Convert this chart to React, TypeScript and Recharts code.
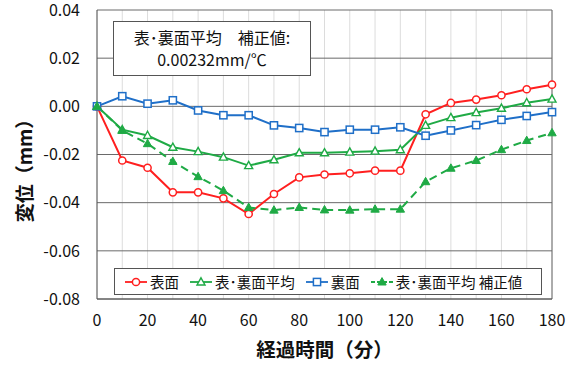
import React from 'react';
import { LineChart, Line, XAxis, YAxis, CartesianGrid, ReferenceLine, Legend } from 'recharts';

// Elapsed time (minutes)
const minutes = [0, 10, 20, 30, 40, 50, 60, 70, 80, 90, 100, 110, 120, 130, 140, 150, 160, 170, 180];

// Displacement (mm) for each series
const frontSurface = [0, -0.0225, -0.0255, -0.0357, -0.0357, -0.0382, -0.0447, -0.0364, -0.0295, -0.0283, -0.0278, -0.0267, -0.0267, -0.0033, 0.0014, 0.0028, 0.0046, 0.0071, 0.009];
const averageSurface = [0, -0.0097, -0.0121, -0.017, -0.0188, -0.0211, -0.0246, -0.0222, -0.0193, -0.0193, -0.019, -0.0186, -0.018, -0.0079, -0.0047, -0.0026, -0.0008, 0.0015, 0.003];
const backSurface = [0, 0.0042, 0.0011, 0.0025, -0.0017, -0.0037, -0.0037, -0.0079, -0.009, -0.0107, -0.0097, -0.0097, -0.0087, -0.0122, -0.01, -0.0078, -0.0056, -0.004, -0.0024];
const averageCorrected = [0, -0.01, -0.0155, -0.0229, -0.0292, -0.035, -0.042, -0.0431, -0.042, -0.043, -0.0431, -0.0427, -0.0427, -0.0313, -0.0257, -0.0225, -0.018, -0.0142, -0.011];

const xTicks = [0, 20, 40, 60, 80, 100, 120, 140, 160, 180];
const minorXGrid = [10, 30, 50, 70, 90, 110, 130, 150, 170];
const yTicks = [-0.08, -0.06, -0.04, -0.02, 0, 0.02, 0.04];

const seriesNames = ['表面', '表･裏面平均', '裏面', '表･裏面平均 補正値'];

const RED = '#ff1f1f';
const GREEN = '#1faa45';
const BLUE = '#1f6fc8';
const FONT = '"Noto Sans CJK JP", "Noto Sans", sans-serif';

const data = minutes.map((m, i) => ({
  t: m,
  front: frontSurface[i],
  avg: averageSurface[i],
  back: backSurface[i],
  corr: averageCorrected[i],
}));

type Marker = 'circle' | 'triangleOpen' | 'square' | 'triangleFilled';

const markerShape = (kind: Marker, color: string, cx: number, cy: number, key?: React.Key) => {
  switch (kind) {
    case 'circle':
      return <circle key={key} cx={cx} cy={cy} r={3.6} fill="#fff" stroke={color} strokeWidth={1.5} />;
    case 'square':
      return <rect key={key} x={cx - 3.6} y={cy - 3.6} width={7.2} height={7.2} fill="#fff" stroke={color} strokeWidth={1.5} />;
    case 'triangleOpen':
      return <path key={key} d={`M${cx},${cy - 4.2} L${cx + 4},${cy + 3} L${cx - 4},${cy + 3} Z`} fill="#fff" stroke={color} strokeWidth={1.4} />;
    default:
      return <path key={key} d={`M${cx},${cy - 4.4} L${cx + 4.2},${cy + 3} L${cx - 4.2},${cy + 3} Z`} fill={color} stroke={color} strokeWidth={1} />;
  }
};

const makeDot = (kind: Marker, color: string) => (props: any) => {
  const { cx, cy, index } = props;
  if (cx == null || cy == null) return <g key={`e-${index}`} />;
  return markerShape(kind, color, cx, cy, `${kind}-${index}`);
};

const seriesConfig: { key: string; name: string; color: string; marker: Marker; dashed: boolean }[] = [
  { key: 'front', name: seriesNames[0], color: RED, marker: 'circle', dashed: false },
  { key: 'avg', name: seriesNames[1], color: GREEN, marker: 'triangleOpen', dashed: false },
  { key: 'back', name: seriesNames[2], color: BLUE, marker: 'square', dashed: false },
  { key: 'corr', name: seriesNames[3], color: GREEN, marker: 'triangleFilled', dashed: true },
];

const LegendBox = () => (
  <div
    style={{
      boxSizing: 'border-box',
      width: 428,
      height: 27,
      border: '1px solid #555',
      background: '#fff',
      display: 'flex',
      alignItems: 'center',
      paddingLeft: 10,
      fontFamily: FONT,
      fontSize: 14.5,
      color: '#111',
      whiteSpace: 'nowrap',
    }}
  >
    {seriesConfig.map((s, i) => (
      <div key={s.key} style={{ display: 'flex', alignItems: 'center', marginRight: i < 3 ? 11 : 0 }}>
        <svg width={22} height={12} style={{ marginRight: 3 }}>
          <line x1={0} y1={6} x2={22} y2={6} stroke={s.color} strokeWidth={1.8} strokeDasharray={s.dashed ? '4 2' : undefined} />
          {markerShape(s.marker, s.color, 11, 6)}
        </svg>
        <span>{s.name}</span>
      </div>
    ))}
  </div>
);

const XTitle = (props: any) => {
  const { viewBox } = props;
  const cx = viewBox.x + viewBox.width / 2;
  return (
    <text x={cx} y={357} textAnchor="middle" fontFamily={FONT} fontSize={19.5} fontWeight="bold" fill="#111">
      経過時間（分）
    </text>
  );
};

const YTitle = () => (
  <text x={0} y={0} transform="translate(32,166) rotate(-90)" textAnchor="middle" fontFamily={FONT} fontSize={19} fontWeight="bold" fill="#111">
    変位（mm）
  </text>
);

export default function App() {
  return (
    <div style={{ position: 'absolute', left: 0, top: 0, width: 576, height: 367, background: '#fff' }}>
      <LineChart width={576} height={367} data={data} margin={{ top: 10, right: 24, bottom: 11, left: 37 }}>
        <CartesianGrid stroke="#dcdcdc" horizontal={false} />
        {minorXGrid.map((m) => (
          <ReferenceLine key={`g${m}`} x={m} stroke="#dcdcdc" strokeWidth={1} />
        ))}
        {yTicks.map((v) => (
          <ReferenceLine key={`h${v}`} y={v} stroke="#6a6a6a" strokeWidth={1} />
        ))}
        <ReferenceLine x={180} stroke="#6a6a6a" strokeWidth={1} />
        <XAxis
          dataKey="t"
          type="number"
          domain={[0, 180]}
          ticks={xTicks}
          tickLine={false}
          tickSize={0}
          tickMargin={16}
          axisLine={{ stroke: '#555' }}
          tick={{ fontFamily: FONT, fontSize: 16, fill: '#111' }}
          label={<XTitle />}
        />
        <YAxis
          type="number"
          domain={[-0.08, 0.04]}
          ticks={yTicks}
          tickFormatter={(v: number) => v.toFixed(2)}
          tickLine={false}
          tickSize={0}
          tickMargin={17}
          axisLine={{ stroke: '#555' }}
          tick={{ fontFamily: FONT, fontSize: 16, fill: '#111' }}
          label={<YTitle />}
        />
        {seriesConfig.map((s) => (
          <Line
            key={s.key}
            dataKey={s.key}
            name={s.name}
            stroke={s.color}
            strokeWidth={2}
            strokeDasharray={s.dashed ? '8 5' : undefined}
            dot={makeDot(s.marker, s.color)}
            activeDot={false}
            isAnimationActive={false}
          />
        ))}
        <Legend
          content={<LegendBox />}
          wrapperStyle={{ position: 'absolute', left: 114, top: 268, width: 428, height: 27, bottom: 'auto' }}
        />
      </LineChart>
      <div
        style={{
          position: 'absolute',
          left: 113,
          top: 21,
          width: 198,
          height: 55,
          boxSizing: 'border-box',
          border: '1px solid #555',
          background: '#fff',
          fontFamily: FONT,
          fontSize: 16,
          color: '#111',
          textAlign: 'center',
          lineHeight: '22px',
          paddingTop: 4,
        }}
      >
        <div>表･裏面平均　補正値:</div>
        <div>0.00232mm/℃</div>
      </div>
    </div>
  );
}
